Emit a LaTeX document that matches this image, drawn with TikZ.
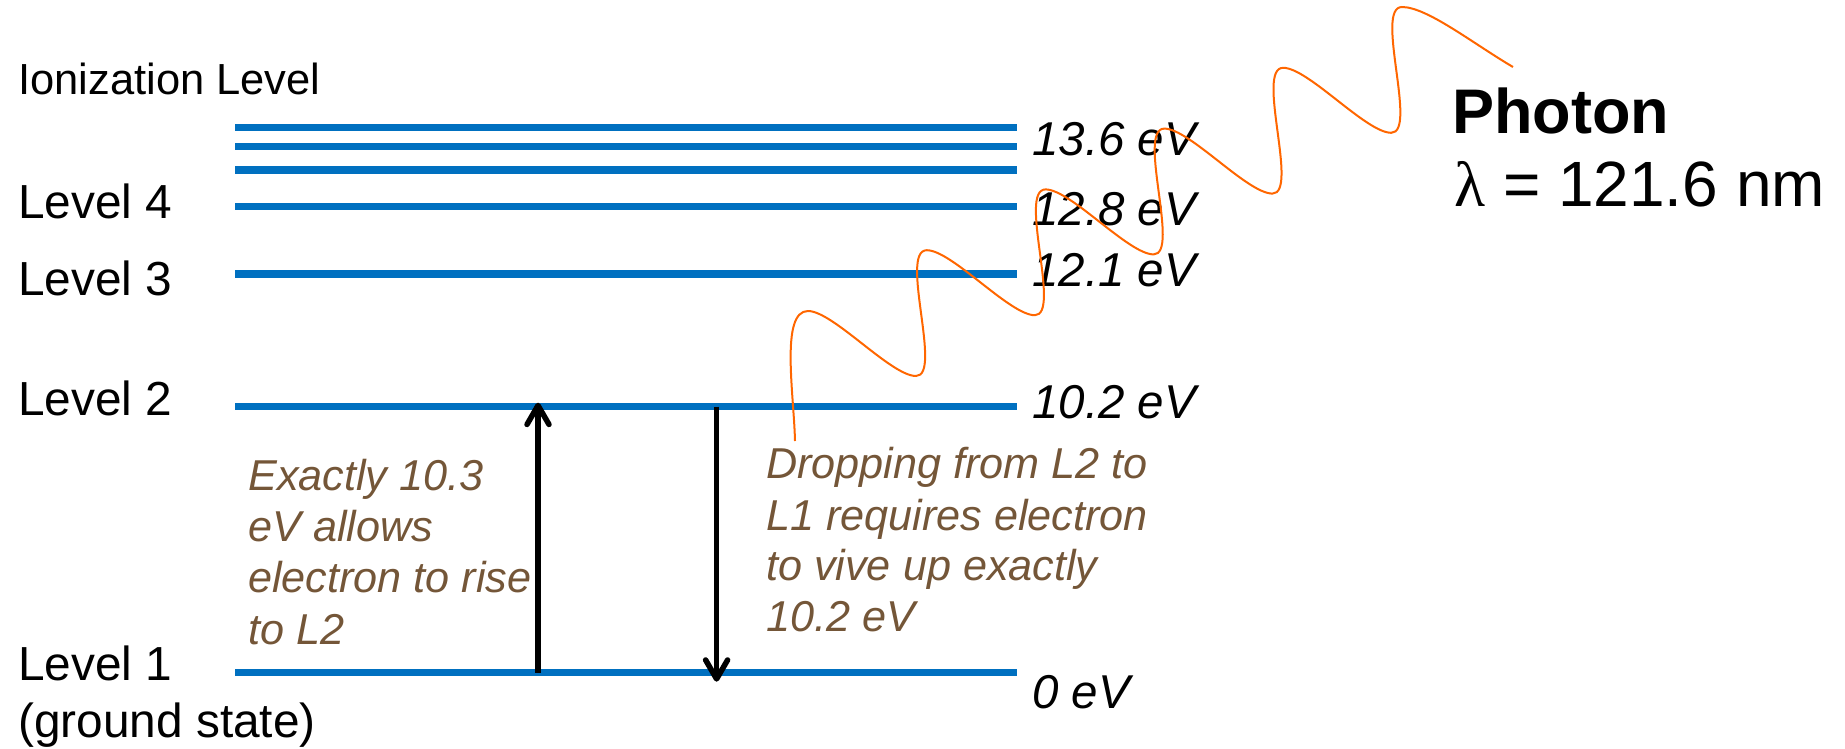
\documentclass[tikz,border=0pt]{standalone}
\usepackage{fontspec}
\setmainfont{Liberation Sans}
\newfontfamily\greekfont{Liberation Serif}
\usetikzlibrary{arrows.meta}
\definecolor{lvlblue}{RGB}{0,112,192}
\definecolor{txtbrown}{RGB}{116,86,56}
\definecolor{photonorange}{RGB}{255,102,0}
\begin{document}
\begin{tikzpicture}[x=1pt,y=-1pt,
  level/.style={draw=lvlblue, line width=7.5pt},
  lab/.style={anchor=base west, inner sep=0pt, font=\fontsize{47.8}{52}\selectfont},
  smalllab/.style={anchor=base west, inner sep=0pt, font=\fontsize{43.5}{50}\selectfont},
  elab/.style={anchor=base west, inner sep=0pt, font=\fontsize{47.5}{52}\selectfont\itshape},
  note/.style={anchor=base west, inner sep=0pt, text=txtbrown, font=\fontsize{43.2}{50}\selectfont\itshape},
  trans/.style={line width=5.5pt, -{Straight Barb[length=19pt,width=22pt,round]}},
  wave/.style={draw=photonorange, line width=2pt}]
\useasboundingbox (0,0) rectangle (1845,748);

% energy levels
\draw[level] (235,127.7) coordinate (i1a) -- (1017,127.7) coordinate (i1b);
\draw[level] (235,146.7) coordinate (i2a) -- (1017,146.7) coordinate (i2b);
\draw[level] (235,170) coordinate (i3a) -- (1017,170) coordinate (i3b);
\draw[level] (235,206.7) coordinate (l4a) -- (1017,206.7) coordinate (l4b);
\draw[level] (235,274) coordinate (l3a) -- (1017,274) coordinate (l3b);
\draw[level] (235,406.5) coordinate (l2a) -- (1017,406.5) coordinate (l2b);
\draw[level] (235,672.7) coordinate (l1a) -- (1017,672.7) coordinate (l1b);

% left labels
\node[smalllab] (ion) at (18,94) {Ionization Level};
\node[lab] (lev4) at (18,218) {Level 4};
\node[lab] (lev3) at (18,295.7) {Level 3};
\node[lab] (lev2) at (18,415) {Level 2};
\node[lab] (lev1) at (18,680.7) {Level 1};
\node[lab] (ground) at (18,737) {(ground state)};

% right labels
\node[elab] (e136) at (1032,155) {13.6 eV};
\node[elab] (e128) at (1032,225) {12.8 eV};
\node[elab] (e121) at (1032,286.7) {12.1 eV};
\node[elab] (e102) at (1032,418.3) {10.2 eV};
\node[elab] (e0) at (1032,708.3) {0 eV};

% notes
\node[note] (na1) at (248,490.7) {Exactly 10.3};
\node[note] (na2) at (248,541.7) {eV allows};
\node[note] (na3) at (248,592.7) {electron to rise};
\node[note] (na4) at (248,644) {to L2};
\node[note] (nb1) at (766,478.3) {Dropping from L2 to};
\node[note] (nb2) at (766,530) {L1 requires electron};
\node[note] (nb3) at (766,580) {to vive up exactly};
\node[note] (nb4) at (766,631.7) {10.2 eV};

% transitions
\coordinate (upS) at (538,672.7);
\coordinate (upE) at (538,402.7);
\coordinate (dnS) at (716.6,406.7);
\coordinate (dnE) at (716.6,681.7);
\draw[trans] (upS) -- (upE);
\draw[trans] (dnS) -- (dnE);

% photon
\node[anchor=base west, inner sep=0pt, font=\fontsize{63}{70}\selectfont\bfseries] (photon) at (1452,133.3) {Photon};
\node[anchor=base west, inner sep=0pt, font=\fontsize{64}{70}\selectfont] (lambda) at (1454,206.7) {{\greekfont λ} = 121.6 nm};

\coordinate (wA) at (795,441);
\coordinate (wE) at (1513,67);
\draw[wave] (wA) .. controls (794,395) and (780,311) .. (808,311)
  \foreach \k in {0,...,4} {
    .. controls ({808+118.8*\k+25},{311-60.8*\k}) and ({916+118.8*\k-25},{376-60.8*\k}) .. ({916+118.8*\k},{376-60.8*\k})
    .. controls ({916+118.8*\k+27},{376-60.8*\k}) and ({808+118.8*(\k+1)-28},{311-60.8*(\k+1)}) .. ({808+118.8*(\k+1)},{311-60.8*(\k+1)})
  }
  .. controls (1427,7) and (1473,43.5) .. (wE);
\end{tikzpicture}
\end{document}
